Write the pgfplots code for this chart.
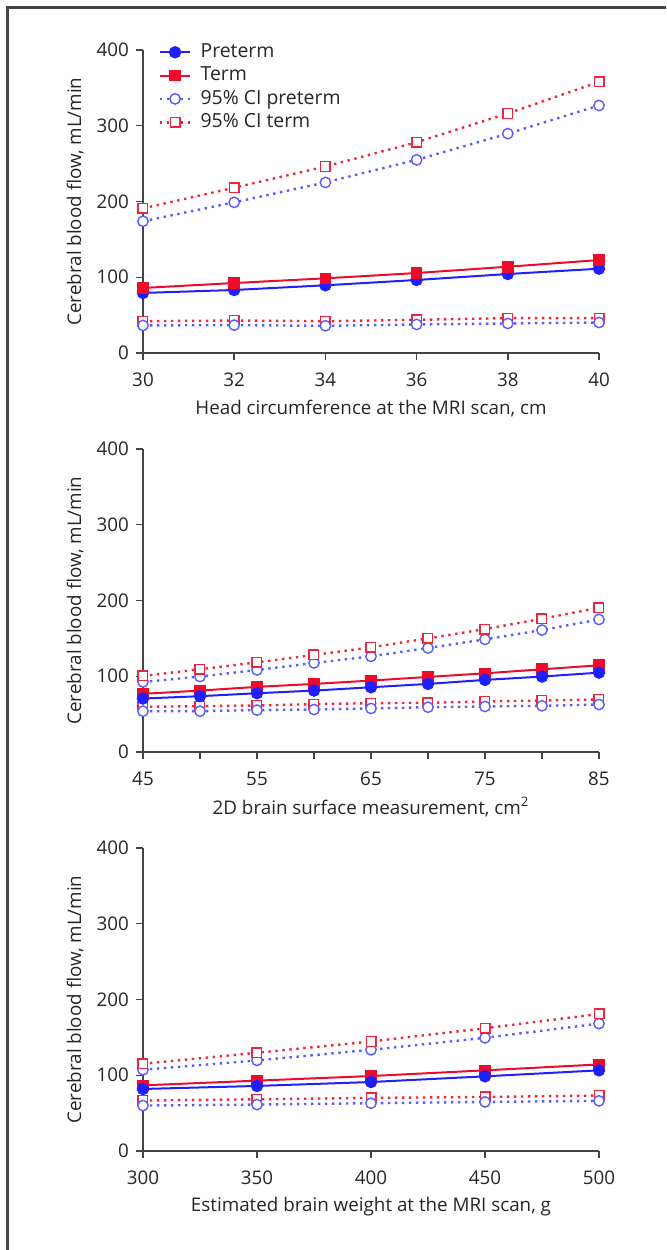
\documentclass[border=0pt]{standalone}
\usepackage{fontspec}
\setmainfont{Open Sans}
\usepackage{pgfplots}
\pgfplotsset{compat=1.18}
\definecolor{pblue}{HTML}{1F1FFF}
\definecolor{tred}{HTML}{EE0A2A}
\definecolor{ciblue}{HTML}{5A5AFF}
\definecolor{cired}{HTML}{F0243F}
\definecolor{axgray}{HTML}{444444}

\pgfplotsset{
  cbf/.style={
    scale only axis, width=228pt, height=151.5pt,
    axis x line*=bottom, axis y line*=left,
    axis line style={axgray, line width=0.7pt, -},
    tick style={axgray, line width=0.7pt},
    tick align=outside, major tick length=3.5pt,
    ymin=0, ymax=400, ytick={0,100,200,300,400},
    /pgf/number format/assume math mode=true,
    /pgf/number format/1000 sep={},
    tick label style={font=\fontsize{9.4}{11}\selectfont, text=black!85},
    xticklabel style={yshift=-3pt},
    label style={font=\fontsize{9.4}{11}\selectfont, text=black!85},
    ylabel={Cerebral blood flow, mL/min},
    y label style={at={(axis description cs:-0.149,0.5)}, anchor=center, rotate=0},
    x label style={at={(axis description cs:0.5,-0.182)}, anchor=center},
    clip=false,
  },
  pre/.style={pblue, line width=1pt, mark=*, mark size=2.6pt, mark options={solid, fill=pblue}},
  term/.style={tred, line width=1pt, mark=square*, mark size=2.4pt, mark options={solid, fill=tred}},
  cipre/.style={ciblue, line width=1.2pt, dash pattern=on 1.2pt off 2.3pt, mark=*, mark size=2.6pt, mark options={solid, line width=0.7pt, draw=ciblue, fill=white}},
  citerm/.style={cired, line width=1.2pt, dash pattern=on 1.2pt off 2.3pt, mark=square*, mark size=2.4pt, mark options={solid, line width=0.7pt, draw=cired, fill=white}},
}

\begin{document}
\begin{tikzpicture}
\useasboundingbox (0,0) rectangle (333pt,-625pt);
\draw[axgray, line width=1.2pt] (3.8pt,-625pt) -- (3.8pt,-3.8pt) -- (333pt,-3.8pt);

% panel 1
\begin{axis}[cbf, at={(71.5pt,-176.5pt)}, anchor=south west,
  xmin=30, xmax=40, xtick={30,32,...,40},
  xlabel={Head circumference at the MRI scan, cm},
  legend style={at={(rel axis cs:0.02,1.048)}, anchor=north west, draw=none, fill=none,
    font=\fontsize{9.7}{11}\selectfont, row sep=-0.8pt, column sep=2.5pt, text=black!85},
  legend cell align=left,
  legend image code/.code={\draw[mark repeat=2,mark phase=2] plot coordinates {(0cm,0cm) (0.27cm,0cm) (0.54cm,0cm)};}]
\addplot[pre] coordinates {(30,79.3) (32,83.2) (34,89.4) (36,96.4) (38,104.3) (40,111.3)};
\addlegendentry{Preterm}
\addplot[term] coordinates {(30,85.9) (32,92.4) (34,98.6) (36,105.6) (38,113.9) (40,122.7)};
\addlegendentry{Term}
\addplot[cipre] coordinates {(30,173.9) (32,198.9) (34,225.2) (36,255.0) (38,289.6) (40,326.8)};
\addlegendentry{95\% CI preterm}
\addplot[citerm] coordinates {(30,191.0) (32,218.2) (34,246.2) (36,278.2) (38,316.3) (40,357.9)};
\addlegendentry{95\% CI term}
\addplot[citerm, forget plot] coordinates {(30,42.0) (32,42.9) (34,42.0) (36,43.8) (38,46.0) (40,46.0)};
\addplot[cipre, forget plot] coordinates {(30,36.4) (32,36.8) (34,35.9) (36,37.7) (38,39.0) (40,40.3)};
\end{axis}

% panel 2
\begin{axis}[cbf, at={(71.5pt,-376pt)}, anchor=south west,
  xmin=45, xmax=85, xtick={45,50,...,85},
  xticklabels={45,,55,,65,,75,,85},
  xlabel={2D brain surface measurement, cm\textsuperscript{2}}]
\addplot[citerm] coordinates {(45,59.6) (50,60.5) (55,61.4) (60,63.2) (65,64.5) (70,64.9) (75,66.7) (80,68.0) (85,69.3)};
\addplot[cipre] coordinates {(45,53.9) (50,53.9) (55,55.3) (60,56.1) (65,57.5) (70,59.2) (75,60.1) (80,61.0) (85,62.7)};
\addplot[cipre] coordinates {(45,92.5) (50,99.6) (55,108.3) (60,117.5) (65,126.3) (70,137.3) (75,148.7) (80,161.0) (85,175.0)};
\addplot[citerm] coordinates {(45,100.4) (50,109.2) (55,118.4) (60,128.1) (65,138.2) (70,150.0) (75,162.3) (80,175.9) (85,190.4)};
\addplot[term] coordinates {(45,76.8) (50,81.1) (55,86.0) (60,89.9) (65,94.3) (70,99.1) (75,103.9) (80,109.2) (85,114.5)};
\addplot[pre] coordinates {(45,70.6) (50,73.7) (55,77.6) (60,81.1) (65,85.5) (70,89.9) (75,95.2) (80,99.6) (85,104.8)};
\end{axis}

% panel 3
\begin{axis}[cbf, at={(71.5pt,-575.5pt)}, anchor=south west,
  xmin=300, xmax=500, xtick={300,350,...,500},
  xlabel={Estimated brain weight at the MRI scan, g}]
\addplot[citerm] coordinates {(300,66.6) (350,68.3) (400,70.1) (450,71.4) (500,73.2)};
\addplot[cipre] coordinates {(300,60.0) (350,61.3) (400,63.1) (450,64.8) (500,66.2)};
\addplot[cipre] coordinates {(300,107.3) (350,119.6) (400,133.6) (450,149.4) (500,168.2)};
\addplot[citerm] coordinates {(300,115.2) (350,129.7) (400,144.6) (450,162.1) (500,180.9)};
\addplot[term] coordinates {(300,86.7) (350,92.9) (400,99.0) (450,106.5) (500,114.3)};
\addplot[pre] coordinates {(300,81.9) (350,85.9) (400,91.1) (450,98.6) (500,106.5)};
\end{axis}
\end{tikzpicture}
\end{document}
